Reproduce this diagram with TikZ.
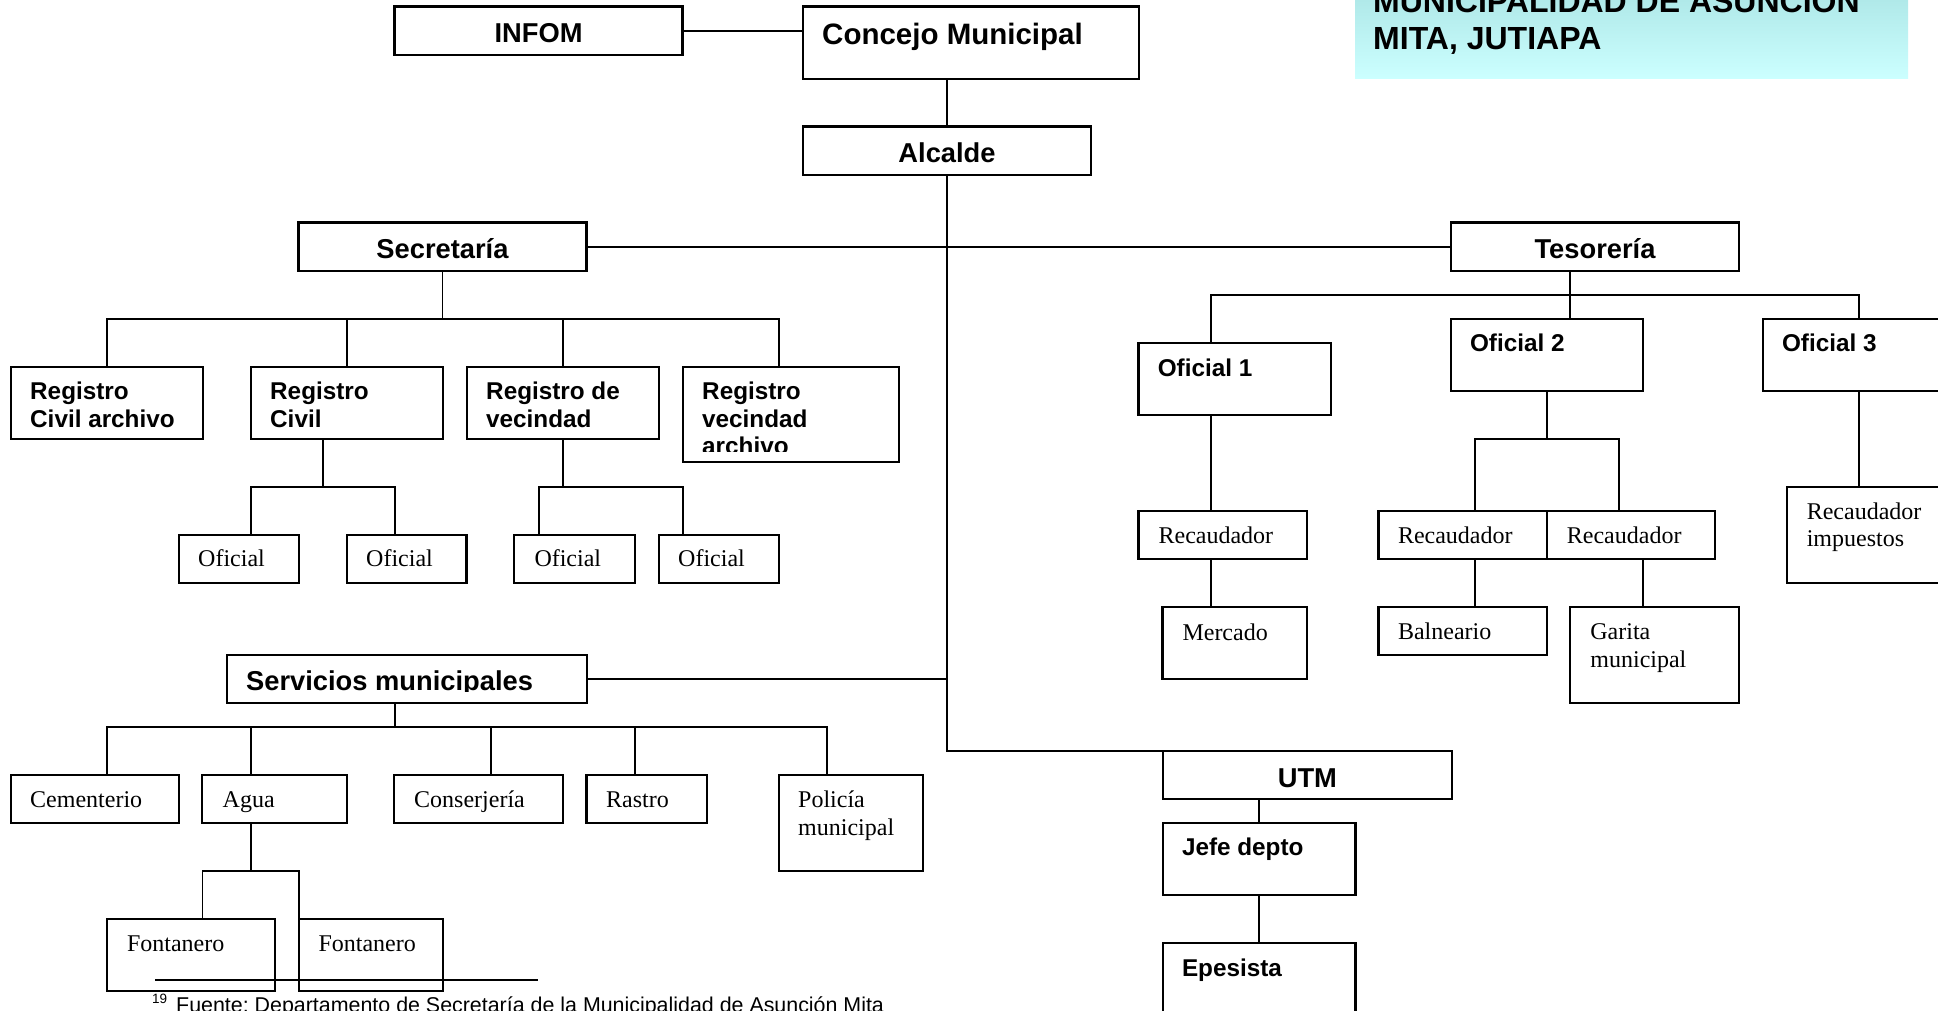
\documentclass[tikz,border=0pt]{standalone}
\usepackage{fontspec}
\setmainfont{Liberation Serif}
\newfontfamily\arialfam{Liberation Sans}
\frenchspacing
\definecolor{tTop}{RGB}{176,233,233}
\definecolor{tBot}{RGB}{204,255,255}
\newcommand\mkbox[5]{\pgfmathsetmacro\mkbw{#4-#2}\pgfmathsetmacro\mkbh{#5-#3}\node[bx,minimum width=\mkbw pt,minimum height=\mkbh pt,anchor=north west] (#1) at (#2,#3) {};}
\newcommand\mlines[1]{\begin{tabular}[t]{@{}l@{}}#1\end{tabular}}
\tikzset{
  bx/.style={draw, line width=2.1pt, inner sep=0pt, outer sep=0pt},
  ln/.style={line width=1.8pt},
  hb/.style={inner sep=0pt, font=\arialfam\bfseries\fontsize{27.3}{31.4}\selectfont},
  sb/.style={inner sep=0pt, anchor=base west, font=\arialfam\bfseries\fontsize{24.3}{27.8}\selectfont},
  sr/.style={inner sep=0pt, anchor=base west, font=\fontsize{24}{27.8}\selectfont},
}
\begin{document}
\begin{tikzpicture}[x=1pt,y=-1pt]
\useasboundingbox (0,0) rectangle (1938,1011);
\clip (0,0) rectangle (1938,1011);
\fill[white] (0,0) rectangle (1938,1011);
% title box
\node[inner sep=0pt, outer sep=0pt, minimum width=553pt, minimum height=79pt, anchor=south west, top color=tTop, bottom color=tBot] (ttlbox) at (1355,78.7) {};
\node[inner sep=0pt, anchor=base west, font=\arialfam\bfseries\fontsize{32}{36.6}\selectfont] (ttl) at (1373,12.7) {\mlines{MUNICIPALIDAD DE ASUNCIÓN\\MITA, JUTIAPA}};
% boxes
\mkbox{infom}{394.5}{6.5}{682.5}{55}
\mkbox{concejo}{803}{6.5}{1139}{79}
\mkbox{alc}{803}{126.5}{1091}{175}
\mkbox{sec}{298.5}{222.5}{586.5}{271}
\mkbox{tes}{1451}{222.5}{1739}{271}
\mkbox{rca}{11}{367}{203}{439}
\mkbox{rc}{251}{367}{443}{439}
\mkbox{rdv}{467}{367}{659}{439}
\mkbox{rva}{683}{367}{899}{462}
\mkbox{ofa}{178.7}{534.7}{298.7}{583}
\mkbox{ofb}{346.6}{534.7}{466.5}{583}
\mkbox{ofc}{514.4}{534.7}{635}{583}
\mkbox{ofd}{658.6}{534.7}{778.6}{583}
\mkbox{ofi1}{1138.5}{342.7}{1331}{415}
\mkbox{ofi2}{1450.6}{319}{1643}{390.7}
\mkbox{ofi3}{1762.7}{319}{1955.3}{390.7}
\mkbox{rec1}{1138.5}{510.7}{1306.8}{559}
\mkbox{merc}{1162.5}{606.7}{1306.8}{679}
\mkbox{rec2a}{1378.5}{510.7}{1546.8}{559}
\mkbox{rec2b}{1546.8}{510.7}{1715.2}{559}
\mkbox{baln}{1378.5}{606.7}{1546.8}{655}
\mkbox{gar}{1570.3}{606.7}{1739.2}{703}
\mkbox{rimp}{1786.8}{486.7}{1955.2}{582.7}
\mkbox{serv}{226.6}{654.7}{587}{702.7}
\mkbox{cem}{10.9}{774.7}{179.3}{823}
\mkbox{agua}{202.4}{774.7}{346.6}{823}
\mkbox{cons}{394.4}{774.7}{562.9}{823}
\mkbox{rast}{586.5}{774.7}{707}{823}
\mkbox{pol}{778.6}{774.7}{923.4}{870.7}
\mkbox{font1}{106.6}{919}{275}{991}
\mkbox{font2}{298.7}{919}{443}{991}
\mkbox{utm}{1163}{751}{1451.7}{799}
\mkbox{jefe}{1163}{822.7}{1355.5}{895}
\mkbox{epes}{1163}{943}{1355.5}{1015.3}
% junction coordinates
\coordinate (xrva) at (778.6,0);
\coordinate (xrc) at (323,0);
\coordinate (xofa) at (250.8,0);
\coordinate (xofb) at (395,0);
\coordinate (xofc) at (538.6,0);
\coordinate (xofd) at (682.8,0);
\coordinate (ysb) at (0,318.7);
\coordinate (yrcb) at (0,486.7);
\coordinate (xtes) at (1570.3,0);
\coordinate (ytb) at (0,294.7);
\coordinate (xo1) at (1210.6,0);
\coordinate (yt2b) at (0,438.7);
\coordinate (xr2a) at (1475.2,0);
\coordinate (xr2b) at (1619,0);
\coordinate (xgar) at (1643,0);
\coordinate (xsv) at (395,0);
\coordinate (ysvb) at (0,726.7);
\coordinate (xcem) at (106.6,0);
\coordinate (xag) at (250.8,0);
\coordinate (xcons) at (490.8,0);
\coordinate (xrast) at (635,0);
\coordinate (xpol) at (827,0);
\coordinate (yagb) at (0,870.7);
\coordinate (xf1) at (202.4,0);
\coordinate (xf2) at (298.7,0);
% connectors
\draw[ln] (infom.east) -- (infom.east -| concejo.west);
\draw[ln] (alc.north) -- (alc.north |- concejo.south);
\draw[ln] (alc.south) |- (utm.north west);
\draw[ln, line width=2.2pt] (sec.east) -- (tes.west);
\draw[ln] (serv.east) -- (serv.east -| alc.south);
\draw[ln] (sec.south) -- (sec.south |- ysb);
\draw[ln] (rca.north) |- (xrva |- ysb) -- (xrva |- rva.north);
\draw[ln] (rc.north) -- (rc.north |- ysb);
\draw[ln] (rdv.north) -- (rdv.north |- ysb);
\draw[ln] (xrc |- rc.south) -- (xrc |- yrcb);
\draw[ln] (xofa |- ofa.north) |- (xofb |- yrcb) -- (xofb |- ofb.north);
\draw[ln] (rdv.south) -- (rdv.south |- yrcb);
\draw[ln] (xofc |- ofc.north) |- (xofd |- yrcb) -- (xofd |- ofd.north);
\draw[ln] (xtes |- tes.south) -- (xtes |- ytb);
\draw[ln] (xo1 |- ofi1.north) |- (ofi3.north |- ytb) -- (ofi3.north);
\draw[ln] (xtes |- ytb) -- (xtes |- ofi2.north);
\draw[ln] (xo1 |- ofi1.south) -- (xo1 |- rec1.north);
\draw[ln] (xo1 |- rec1.south) -- (xo1 |- merc.north);
\draw[ln] (ofi2.south) -- (ofi2.south |- yt2b);
\draw[ln] (xr2a |- rec2a.north) |- (xr2b |- yt2b) -- (xr2b |- rec2b.north);
\draw[ln] (xr2a |- rec2a.south) -- (xr2a |- baln.north);
\draw[ln] (xgar |- rec2b.south) -- (xgar |- gar.north);
\draw[ln] (ofi3.south) -- (ofi3.south |- rimp.north);
\draw[ln] (xsv |- serv.south) -- (xsv |- ysvb);
\draw[ln] (xcem |- cem.north) |- (xpol |- ysvb) -- (xpol |- pol.north);
\draw[ln] (xag |- ysvb) -- (xag |- agua.north);
\draw[ln] (xcons |- ysvb) -- (xcons |- cons.north);
\draw[ln] (xrast |- ysvb) -- (xrast |- rast.north);
\draw[ln] (xag |- agua.south) -- (xag |- yagb);
\draw[ln] (xf1 |- font1.north) |- (xf2 |- yagb) -- (xf2 |- font2.north);
\draw[ln] (jefe.north) -- (jefe.north |- utm.south);
\draw[ln] (jefe.south) -- (epes.north);
% texts
\node[hb, anchor=base] (infom-t) at (538.5,42.7) {INFOM};
\node[inner sep=0pt, anchor=base west, font=\arialfam\bfseries\fontsize{29.5}{34}\selectfont] (concejo-t) at (822,44.3) {Concejo Municipal};
\node[hb, anchor=base] (alc-t) at (947,162.3) {Alcalde};
\node[hb, anchor=base] (sec-t) at (442.5,258.3) {Secretaría};
\node[hb, anchor=base] (tes-t) at (1595,258.7) {Tesorería};
\node[sb] (rca-t) at (30,399.3) {\mlines{Registro\\Civil archivo}};
\node[sb] (rc-t) at (270,399.3) {\mlines{Registro\\Civil}};
\node[sb] (rdv-t) at (486,399.3) {\mlines{Registro de\\vecindad}};
\begin{scope}
\clip (rva.north west) rectangle (899,451.7);
\node[sb] (rva-t) at (702,399.3) {\mlines{Registro\\vecindad\\archivo}};
\end{scope}
\node[sr] (ofa-t) at (198,566.7) {Oficial};
\node[sr] (ofb-t) at (366,566.7) {Oficial};
\node[sr] (ofc-t) at (534.3,566.7) {Oficial};
\node[sr] (ofd-t) at (678,566.7) {Oficial};
\node[sb] (ofi1-t) at (1157.6,376) {Oficial 1};
\node[sb] (ofi2-t) at (1469.8,351.7) {Oficial 2};
\node[sb] (ofi3-t) at (1781.8,351.7) {Oficial 3};
\node[sr] (rec1-t) at (1158.4,543.3) {Recaudador};
\node[sr] (merc-t) at (1182.3,640) {Mercado};
\node[sr] (rec2a-t) at (1397.8,543.3) {Recaudador};
\node[sr] (rec2b-t) at (1566.7,543.3) {Recaudador};
\node[sr] (baln-t) at (1397.8,639.5) {Balneario};
\node[sr] (gar-t) at (1590.2,639.5) {\mlines{Garita\\municipal}};
\node[sr] (rimp-t) at (1806.6,519) {\mlines{Recaudador\\impuestos}};
\begin{scope}
\clip (serv.north west) rectangle (587,691.7);
\node[hb, anchor=base west] (serv-t) at (246,690) {Servicios municipales};
\end{scope}
\node[sr] (cem-t) at (30,807.3) {Cementerio};
\node[sr] (agua-t) at (222.5,807.3) {Agua};
\node[sr] (cons-t) at (414,807.3) {Conserjería};
\node[sr] (rast-t) at (606,807.3) {Rastro};
\node[sr] (pol-t) at (798,807.3) {\mlines{Policía\\municipal}};
\node[sr] (font1-t) at (126.8,951.7) {Fontanero};
\node[sr] (font2-t) at (318.3,951.7) {Fontanero};
\node[hb, anchor=base] (utm-t) at (1307.35,787.3) {UTM};
\node[sb] (jefe-t) at (1181.8,855.7) {Jefe depto};
\node[sb] (epes-t) at (1181.8,976) {Epesista};
% footnote
\coordinate (fr1) at (155,980);
\coordinate (fr2) at (538.3,980);
\draw[line width=1.7pt] (fr1) -- (fr2);
\node[inner sep=0pt, anchor=base west, font=\arialfam\fontsize{21.4}{24}\selectfont] (fn) at (152,1012.5) {\raisebox{9pt}{\fontsize{13.5}{15}\selectfont 19}\kern 9pt Fuente: Departamento de Secretaría de la Municipalidad de Asunción Mita};
\end{tikzpicture}
\end{document}
